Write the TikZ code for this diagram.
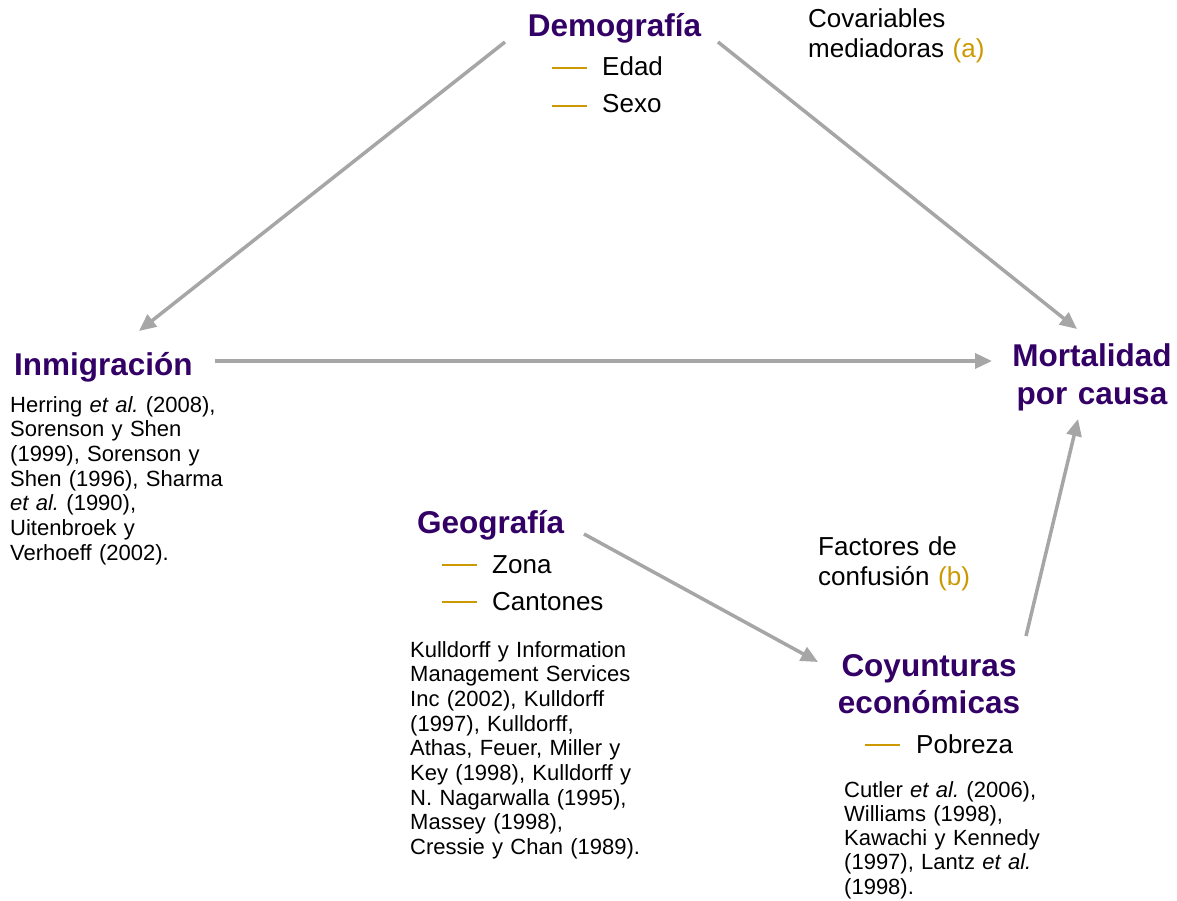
\documentclass[tikz,border=0pt]{standalone}
\usepackage{fontspec}
\setmainfont{Liberation Sans}
\usetikzlibrary{arrows.meta}
\definecolor{tpurple}{RGB}{51,0,102}
\definecolor{tgold}{RGB}{204,153,0}
\definecolor{tgray}{RGB}{166,166,166}
\frenchspacing
\begin{document}
\begin{tikzpicture}[x=1pt,y=-1pt,
  title/.style={font=\fontsize{31.5}{38}\selectfont\bfseries, text=tpurple, inner sep=0pt, anchor=base},
  titlelines/.style={title, text width=240pt, align=center},
  item/.style={font=\fontsize{26}{30}\selectfont, inner sep=0pt, anchor=base west},
  note/.style={font=\fontsize{26}{30}\selectfont, inner sep=0pt, anchor=base west, text width=220pt, align=left},
  refs/.style={font=\fontsize{22}{24.7}\selectfont, inner sep=0pt, anchor=base west, text width=280pt, align=left},
  bulletline/.style={draw=tgold, line width=1.5pt},
  conn/.style={draw=tgray, line width=3.5pt, -{Triangle[length=17pt,width=15pt]}}
]
\useasboundingbox (0,0) rectangle (1177,901);

% Demografia
\node[title] (demo) at (614.5,36.5) {Demografía};
\node[item] (edad) at (602,76) {Edad};
\node[item] (sexo) at (602,113) {Sexo};
\draw[bulletline] (552,68) -- (587,68);
\draw[bulletline] (552,106) -- (587,106);

% Covariables
\node[note] (cov) at (808,28) {Covariables\\mediadoras \textcolor{tgold}{(a)}};

% Inmigracion
\node[title, anchor=base west] (inm) at (14,375) {Inmigración};
\node[refs] (inmrefs) at (10,412) {Herring \textit{et al.\/} (2008),\\Sorenson y Shen\\(1999), Sorenson y\\Shen (1996), Sharma\\\textit{et al.\/} (1990),\\Uitenbroek y\\Verhoeff (2002).};

% Mortalidad
\node[titlelines] (mort) at (1092,366) {Mortalidad\\por causa};

% Geografia
\node[title, anchor=base west] (geo) at (417,533) {Geografía};
\node[item] (zona) at (492,573) {Zona};
\node[item] (cant) at (492,610) {Cantones};
\draw[bulletline] (442,565) -- (477,565);
\draw[bulletline] (442,602) -- (477,602);
\node[refs] (georefs) at (410,657) {Kulldorff y Information\\Management Services\\Inc (2002), Kulldorff\\(1997), Kulldorff,\\Athas, Feuer, Miller y\\Key (1998), Kulldorff y\\N. Nagarwalla (1995),\\Massey (1998),\\Cressie y Chan (1989).};

% Factores
\node[note] (fac) at (818,555) {Factores de\\confusión \textcolor{tgold}{(b)}};

% Coyunturas
\node[titlelines, font=\fontsize{31.5}{37}\selectfont\bfseries] (coy) at (929,676) {Coyunturas\\económicas};
\node[item] (pob) at (916,753) {Pobreza};
\draw[bulletline] (865,745) -- (900,745);
\node[refs, font=\fontsize{22}{24.3}\selectfont] (coyrefs) at (844,797) {Cutler \textit{et al.\/} (2006),\\Williams (1998),\\Kawachi y Kennedy\\(1997), Lantz \textit{et al.\/}\\(1998).};

% connector end points
\coordinate (demoL) at (505,42);
\coordinate (inmT) at (139,331);
\coordinate (demoR) at (718,42);
\coordinate (mortT) at (1077,329);
\coordinate (inmR) at (215,361);
\coordinate (mortL) at (992,361);
\coordinate (geoR) at (584,534);
\coordinate (coyL) at (818,662);
\coordinate (coyT) at (1026,636);
\coordinate (mortB) at (1078,419);

\draw[conn] (demoL) -- (inmT);
\draw[conn] (demoR) -- (mortT);
\draw[conn] (inmR) -- (mortL);
\draw[conn] (geoR) -- (coyL);
\draw[conn] (coyT) -- (mortB);
\end{tikzpicture}
\end{document}
